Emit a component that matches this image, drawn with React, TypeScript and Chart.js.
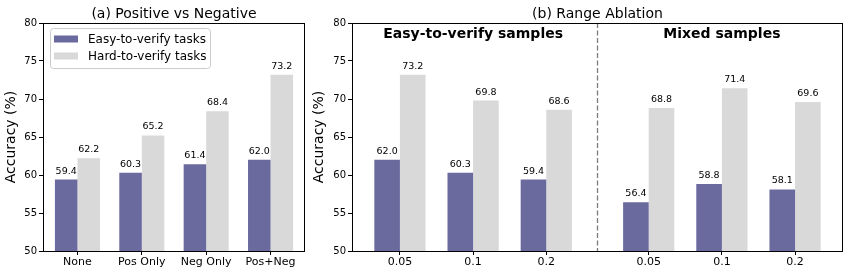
import React, { useEffect, useRef } from 'react';
import { Chart, registerables } from 'chart.js';

Chart.register(...registerables);

// ---------- data ----------
const seriesNames = ['Easy-to-verify tasks', 'Hard-to-verify tasks'];

const posNegCategories = ['None', 'Pos Only', 'Neg Only', 'Pos+Neg'];
const posNegPositions = [0, 1, 2, 3];
const posNegEasy = [59.4, 60.3, 61.4, 62.0];
const posNegHard = [62.2, 65.2, 68.4, 73.2];

const rangeLabels = ['0.05', '0.1', '0.2', '0.05', '0.1', '0.2'];
const rangePositions = [0, 1, 2, 3.4, 4.4, 5.4];
const rangeEasy = [62.0, 60.3, 59.4, 56.4, 58.8, 58.1];
const rangeHard = [73.2, 69.8, 68.6, 68.8, 71.4, 69.6];
const rangeGroupNames = ['Easy-to-verify samples', 'Mixed samples'];
const rangeGroupCenters = [1, 4.4];
const rangeSeparator = 2.7;

const yMin = 50;
const yMax = 80;
const yStep = 5;

// ---------- styles ----------
const FONT = "'DejaVu Sans', 'Liberation Sans', sans-serif";
const EASY_COLOR = '#6a6a9f';
const HARD_COLOR = '#d9d9d9';

type PanelCfg = {
  title: string;
  labels: string[];
  positions: number[];
  easy: number[];
  hard: number[];
  xMin: number;
  xMax: number;
  yAxisWidth: number;
  yTitlePad: number;
  padRight: number;
  legend: boolean;
  groupNames?: string[];
  groupCenters?: number[];
  separator?: number;
};

function decorPlugin(cfg: PanelCfg) {
  return {
    id: 'decor',
    afterDraw(chart: any) {
      const ctx: CanvasRenderingContext2D = chart.ctx;
      const a = chart.chartArea;
      const xs = chart.scales.x;
      ctx.save();

      // value labels
      ctx.fillStyle = '#000';
      ctx.font = `9.5px ${FONT}`;
      ctx.textAlign = 'center';
      ctx.textBaseline = 'alphabetic';
      chart.data.datasets.forEach((ds: any, di: number) => {
        const meta = chart.getDatasetMeta(di);
        meta.data.forEach((el: any, i: number) => {
          const v = ds.data[i].y as number;
          ctx.fillText(v.toFixed(1), el.x, el.y - 6);
        });
      });

      // separator
      if (cfg.separator !== undefined) {
        const sx = xs.getPixelForValue(cfg.separator);
        ctx.strokeStyle = 'rgba(100,100,100,0.85)';
        ctx.lineWidth = 1.3;
        ctx.setLineDash([5, 2.5]);
        ctx.beginPath();
        ctx.moveTo(sx, a.top);
        ctx.lineTo(sx, a.bottom);
        ctx.stroke();
        ctx.setLineDash([]);
      }

      // group titles
      if (cfg.groupNames && cfg.groupCenters) {
        ctx.font = `bold 14px ${FONT}`;
        ctx.fillStyle = '#000';
        ctx.textAlign = 'center';
        ctx.textBaseline = 'alphabetic';
        cfg.groupNames.forEach((g, i) => {
          ctx.fillText(g, xs.getPixelForValue(cfg.groupCenters![i]), a.top + 14.5);
        });
      }

      // legend
      if (cfg.legend) {
        const lx = a.left + 7;
        const ly = a.top + 5;
        const lw = 160;
        const lh = 40;
        ctx.fillStyle = 'rgba(255,255,255,0.85)';
        ctx.strokeStyle = '#cccccc';
        ctx.lineWidth = 1;
        ctx.beginPath();
        (ctx as any).roundRect(lx + 0.5, ly + 0.5, lw, lh, 3);
        ctx.fill();
        ctx.stroke();
        ctx.font = `12px ${FONT}`;
        ctx.textAlign = 'left';
        ctx.textBaseline = 'alphabetic';
        chart.data.datasets.forEach((ds: any, di: number) => {
          const cy = ly + 11 + di * 17;
          ctx.fillStyle = ds.backgroundColor;
          ctx.fillRect(lx + 4, cy - 3.5, 24, 7);
          ctx.fillStyle = '#000';
          ctx.fillText(ds.label, lx + 38, cy + 4);
        });
      }

      // frame
      ctx.strokeStyle = '#000';
      ctx.lineWidth = 1;
      ctx.strokeRect(Math.round(a.left) + 0.5, Math.round(a.top) + 0.5, Math.round(a.right - a.left) - 1, Math.round(a.bottom - a.top));

      // title
      ctx.fillStyle = '#000';
      ctx.font = `14px ${FONT}`;
      ctx.textAlign = 'center';
      ctx.textBaseline = 'alphabetic';
      ctx.fillText(cfg.title, (a.left + a.right) / 2, 18);

      ctx.restore();
    },
  };
}

function buildConfig(cfg: PanelCfg): any {
  const tickGrid = {
    display: true,
    drawOnChartArea: false,
    drawTicks: true,
    tickLength: 4,
    color: '#000',
    lineWidth: 1,
    offset: false,
  };
  return {
    type: 'bar',
    data: {
      datasets: [
        {
          label: seriesNames[0],
          data: cfg.positions.map((p, i) => ({ x: p, y: cfg.easy[i] })),
          backgroundColor: EASY_COLOR,
          categoryPercentage: 0.7,
          barPercentage: 1.0,
        },
        {
          label: seriesNames[1],
          data: cfg.positions.map((p, i) => ({ x: p, y: cfg.hard[i] })),
          backgroundColor: HARD_COLOR,
          categoryPercentage: 0.7,
          barPercentage: 1.0,
        },
      ],
    },
    options: {
      responsive: false,
      maintainAspectRatio: false,
      animation: false,
      devicePixelRatio: 1,
      layout: { padding: { top: 23, right: cfg.padRight, bottom: 0, left: 0 } },
      plugins: {
        legend: { display: false },
        title: { display: false },
        tooltip: { enabled: false },
      },
      scales: {
        x: {
          type: 'linear',
          min: cfg.xMin,
          max: cfg.xMax,
          offset: false,
          grid: tickGrid,
          border: { display: false },
          afterBuildTicks: (s: any) => {
            s.ticks = cfg.positions.map((v) => ({ value: v }));
          },
          ticks: {
            autoSkip: false,
            maxRotation: 0,
            padding: 1,
            color: '#000',
            font: { family: FONT, size: 11 },
            callback: (v: number) => {
              const idx = cfg.positions.indexOf(v);
              return idx >= 0 ? cfg.labels[idx] : '';
            },
          },
          afterFit: (s: any) => {
            s.height = 26;
          },
        },
        y: {
          type: 'linear',
          min: yMin,
          max: yMax,
          grid: tickGrid,
          border: { display: false },
          ticks: {
            stepSize: yStep,
            padding: 2,
            color: '#000',
            font: { family: FONT, size: 10 },
          },
          title: {
            display: true,
            text: 'Accuracy (%)',
            color: '#000',
            font: { family: FONT, size: 14 },
            padding: { top: cfg.yTitlePad, bottom: 0 },
          },
          afterFit: (s: any) => {
            s.width = cfg.yAxisWidth;
          },
        },
      },
    },
    plugins: [decorPlugin(cfg)],
  };
}

const leftPanel: PanelCfg = {
  title: '(a) Positive vs Negative',
  labels: posNegCategories,
  positions: posNegPositions,
  easy: posNegEasy,
  hard: posNegHard,
  xMin: -0.535,
  xMax: 3.535,
  yAxisWidth: 43,
  yTitlePad: 3,
  padRight: 5,
  legend: true,
};

const rightPanel: PanelCfg = {
  title: '(b) Range Ablation',
  labels: rangeLabels,
  positions: rangePositions,
  easy: rangeEasy,
  hard: rangeHard,
  xMin: -0.655,
  xMax: 6.055,
  yAxisWidth: 42,
  yTitlePad: 1,
  padRight: 4,
  legend: false,
  groupNames: rangeGroupNames,
  groupCenters: rangeGroupCenters,
  separator: rangeSeparator,
};

function Panel({ cfg, left, width }: { cfg: PanelCfg; left: number; width: number }) {
  const ref = useRef<HTMLCanvasElement | null>(null);
  useEffect(() => {
    if (!ref.current) return;
    const chart = new Chart(ref.current, buildConfig(cfg));
    return () => chart.destroy();
  }, [cfg]);
  return (
    <canvas
      ref={ref}
      width={width}
      height={277}
      style={{ position: 'absolute', left, top: 0, width, height: 277 }}
    />
  );
}

export default function App() {
  return (
    <div
      style={{
        position: 'fixed',
        left: 0,
        top: 0,
        width: 847,
        height: 277,
        background: '#fff',
        overflow: 'hidden',
      }}
    >
      <Panel cfg={leftPanel} left={0} width={310} />
      <Panel cfg={rightPanel} left={310} width={537} />
    </div>
  );
}
